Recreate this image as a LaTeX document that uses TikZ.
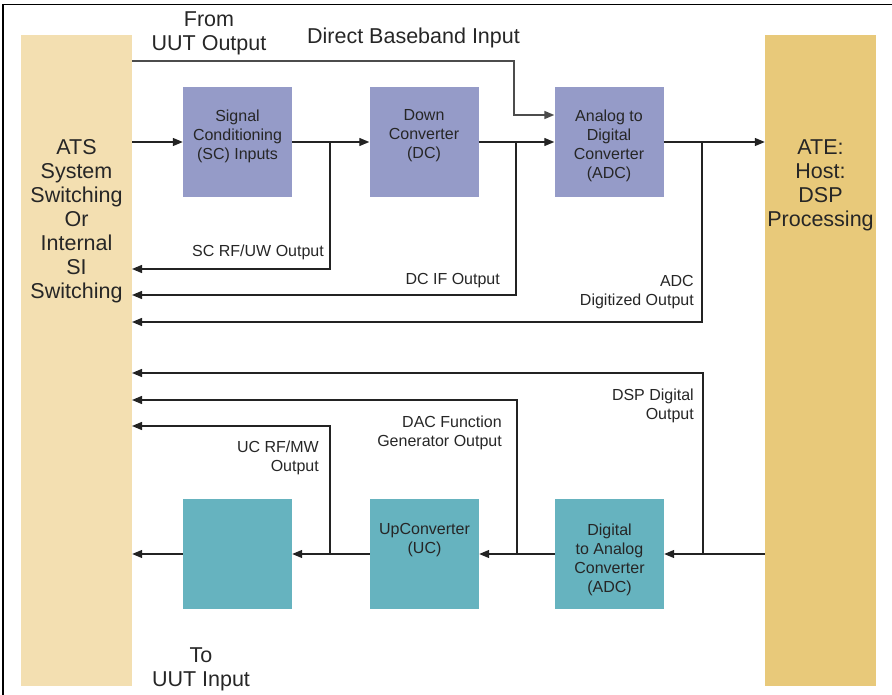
\documentclass[tikz,border=0pt]{standalone}
\usepackage{fontspec}
\setmainfont{Liberation Sans}
\usetikzlibrary{arrows.meta,positioning}

\definecolor{atscol}{RGB}{243,223,177}
\definecolor{atecol}{RGB}{232,201,122}
\definecolor{rxcol}{RGB}{149,155,200}
\definecolor{txcol}{RGB}{102,179,191}
\definecolor{wirecol}{RGB}{35,35,35}

\tikzset{
  bar/.style={shape=rectangle, inner sep=0, minimum width=111pt, minimum height=651pt},
  blk/.style={shape=rectangle, inner sep=0, minimum width=109pt, minimum height=110pt},
  wire/.style={draw=wirecol, line width=1.3pt, -{Triangle[length=10pt,width=8pt]}},
  bigtxt/.style={align=center, inner sep=0, yshift=-2pt, font=\fontsize{21.5}{24}\selectfont, text=black!85},
  blktxt/.style={align=center, inner sep=0, yshift=-2pt, font=\fontsize{16}{19}\selectfont, text=black!85},
  lbl/.style={align=right, inner sep=0, yshift=-2pt, anchor=east, font=\fontsize{16}{19}\selectfont, text=black!85},
}

\begin{document}
\begin{tikzpicture}[x=1pt, y=-1pt]
        \useasboundingbox (0, 0) rectangle (892, 695);
        % Frame:
        \draw[line width=1.5pt] (3, 695) -- (3, 4.5) -- (892, 4.5);

        % Side bars and blocks:
        \node[bar, fill=atscol](atsbar) at (76.5, 360.5){} node[bigtxt] (atstxt) at (76.5, 219.5){ATS\\System\\Switching\\Or\\Internal\\SI\\Switching};
        \node[bar, fill=atecol](atebar) at (820.5, 360.5){} node[bigtxt] (atetxt) at (820.5, 183){ATE:\\Host:\\DSP\\Processing};
        \node[blk, fill=rxcol](sc) at (237.5, 142){} node[blktxt] (sctxt) at (237.5, 134){Signal\\Conditioning\\(SC) Inputs};
        \node[blk, fill=rxcol](dc) at (424, 142){} node[blktxt] (dctxt) at (424, 134){Down\\Converter\\(DC)};
        \node[blk, fill=rxcol](adc) at (609, 142){} node[blktxt] (adctxt) at (609, 143.5){Analog to\\Digital\\Converter\\(ADC)};
        \node[blk, fill=txcol](outbox) at (237.5, 554){};
        \node[blk, fill=txcol](uc) at (424.5, 554){} node[blktxt] (uctxt) at (424.5, 538.5){UpConverter\\(UC)};
        \node[blk, fill=txcol](dac) at (609.5, 554){} node[blktxt] (dactxt) at (609.5, 557.5){Digital\\to Analog\\Converter\\(ADC)};

        % Taps and inputs on the switching bar:
        \coordinate (uutOut) at (132, 61);
        \coordinate (uutBend) at (514, 61);
        \coordinate (scTap) at (330, 142);
        \coordinate (dcTap) at (516, 142);
        \coordinate (adcTap) at (702, 142);
        \coordinate (scIn) at (132, 269);
        \coordinate (dcIn) at (132, 295);
        \coordinate (adcIn) at (132, 322);
        \coordinate (dspTap) at (703, 554);
        \coordinate (dacTap) at (517, 554);
        \coordinate (ucTap) at (330, 554);
        \coordinate (dspIn) at (132, 373);
        \coordinate (dacIn) at (132, 400);
        \coordinate (ucIn) at (132, 426);

        % Receive path:
        \draw[wire, draw=black!70, line width=1.6pt] (uutOut) -- (uutBend) |- ([yshift=27pt]adc.west);
        \draw[wire] (atsbar.east |- sc.west) -- (sc.west);
        \draw[wire] (sc.east) -- (dc.west);
        \draw[wire] (dc.east) -- (adc.west);
        \draw[wire] (adc.east) -- (atebar.west |- adc.east);
        \draw[wire] (scTap) |- (scIn);
        \draw[wire] (dcTap) |- (dcIn);
        \draw[wire] (adcTap) |- (adcIn);

        % Transmit path:
        \draw[wire] (atebar.west |- dac.east) -- (dac.east);
        \draw[wire] (dac.west) -- (uc.east);
        \draw[wire] (uc.west) -- (outbox.east);
        \draw[wire] (outbox.west) -- (atsbar.east |- outbox.west);
        \draw[wire] (dspTap) |- (dspIn);
        \draw[wire] (dacTap) |- (dacIn);
        \draw[wire] (ucTap) |- (ucIn);

        % Labels:
        \node[bigtxt] (fromlbl) at (209, 31){From\\UUT Output};
        \node[bigtxt] (directlbl) at (413.5, 36){Direct Baseband Input};
        \node[bigtxt] (tolbl) at (201, 667){To\\UUT Input};
        \node[lbl] (sclbl) at (324, 250){SC RF/UW Output};
        \node[lbl] (dclbl) at (500, 279){DC IF Output};
        \node[lbl] (adclbl) at (694, 290.5){ADC\\Digitized Output};
        \node[lbl] (dsplbl) at (694, 403.5){DSP Digital\\Output};
        \node[lbl] (daclbl) at (502, 431){DAC Function\\Generator Output};
        \node[lbl] (uclbl) at (319, 456){UC RF/MW\\Output};
    \end{tikzpicture}
\end{document}
